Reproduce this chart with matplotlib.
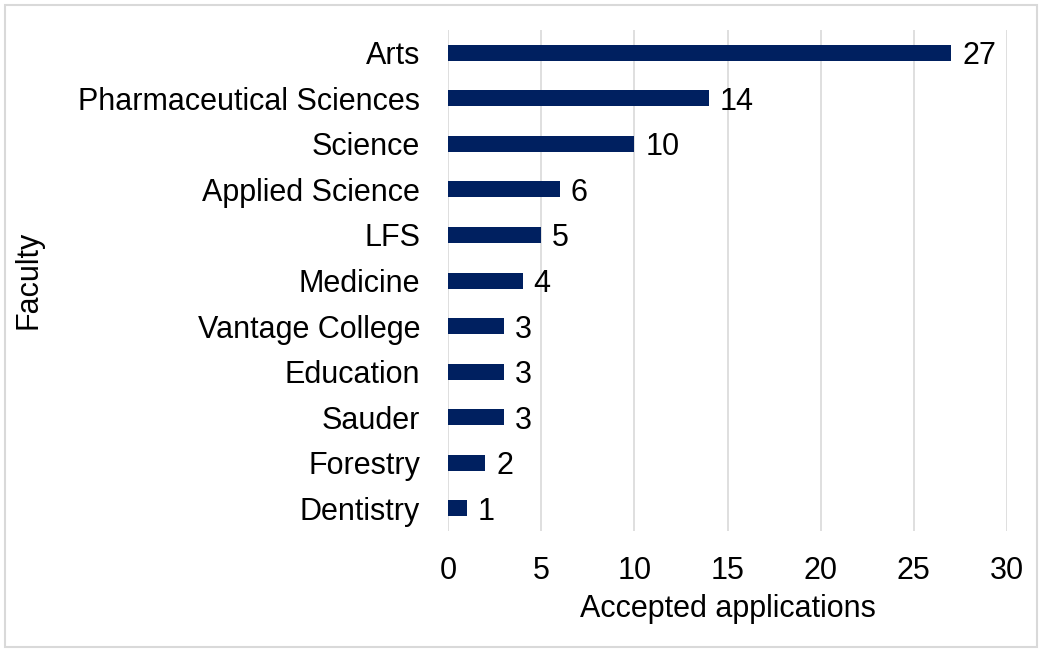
import matplotlib
matplotlib.use("Agg")
import matplotlib.pyplot as plt
from matplotlib.patches import Rectangle

faculties = ["Arts", "Pharmaceutical Sciences", "Science", "Applied Science", "LFS",
             "Medicine", "Vantage College", "Education", "Sauder", "Forestry", "Dentistry"]
accepted = [27, 14, 10, 6, 5, 4, 3, 3, 3, 2, 1]
xticks = [0, 5, 10, 15, 20, 25, 30]

plt.rcParams["font.family"] = ["Liberation Sans", "DejaVu Sans"]
fs = 22

fig = plt.figure(figsize=(10.39, 6.5), dpi=100)
fig.patches.append(Rectangle((0.005, 0.005), 0.993, 0.987, transform=fig.transFigure,
                             fill=False, edgecolor="#d9d9d9", linewidth=1.5))
ax = fig.add_axes([0.4312, 0.183, 0.538, 0.7708])

ypos = list(range(len(faculties)))
ax.barh(ypos, accepted, height=0.35, color="#002060", zorder=3)
for y, v in zip(ypos, accepted):
    ax.annotate(str(v), (v, y), xytext=(8, 0), textcoords="offset points",
                va="center_baseline", ha="left", fontsize=fs)

ax.set_yticks(ypos)
ax.set_yticklabels(faculties, fontsize=fs, va="center_baseline")
ax.set_ylim(len(faculties) - 0.5, -0.5)
ax.set_xlim(0, 30)
ax.set_xticks(xticks)
ax.set_xticklabels([str(t) for t in xticks], fontsize=fs)
ax.tick_params(axis="x", length=0, pad=18)
ax.tick_params(axis="y", length=0, pad=20)
ax.grid(axis="x", color="#d9d9d9", linewidth=1.2, zorder=0)
for s in ax.spines.values():
    s.set_visible(False)
ax.set_xlabel("Accepted applications", fontsize=fs, labelpad=6)
fig.text(28 / 1039, 1 - 280 / 650, "Faculty", rotation=90,
         ha="center", va="center", fontsize=fs)

fig.savefig("out.png", dpi=100)
